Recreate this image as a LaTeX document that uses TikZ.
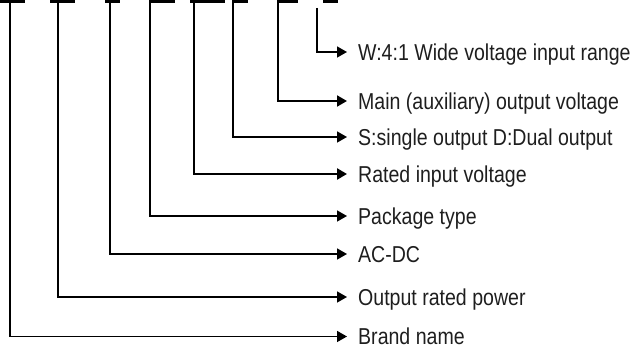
\documentclass[tikz,border=0pt]{standalone}
\usepackage{fontspec}
\setmainfont[FakeStretch=0.85]{Liberation Sans}
\usetikzlibrary{arrows.meta}
\definecolor{txt}{RGB}{30,30,30}
\begin{document}
\begin{tikzpicture}[x=1pt,y=-1pt,
  lead/.style={line width=1.6pt,-{Triangle[length=10pt,width=11pt]}},
  lbl/.style={anchor=west,inner xsep=11pt,inner ysep=0pt,text height=17pt,text depth=0pt,
    font=\fontsize{23}{26}\selectfont,text=txt},
  tick/.style={fill=black}]
\useasboundingbox (0,0) rectangle (633,347);
% top dashes
\fill[tick] (0,0) rectangle (25,2.6);
\fill[tick] (50,0) rectangle (75,2.6);
\fill[tick] (105,0) rectangle (120,2.6);
\fill[tick] (149,0) rectangle (175,2.6);
\fill[tick] (190,0) rectangle (225,2.6);
\fill[tick] (232,0) rectangle (248,2.6);
\fill[tick] (277,0) rectangle (298,2.6);
\fill[tick] (323,0) rectangle (338,2.6);
% start points
\coordinate (s1) at (10,1);
\coordinate (s2) at (58,1);
\coordinate (s3) at (110,1);
\coordinate (s4) at (150,1);
\coordinate (s5) at (194,1);
\coordinate (s6) at (233,1);
\coordinate (s7) at (278,1);
\coordinate (s8) at (317,8);
% labels
\node[lbl] (l1) at (347,336.5) {Brand name};
\node[lbl] (l2) at (347,297) {Output rated power};
\node[lbl] (l3) at (347,254) {AC-DC};
\node[lbl] (l4) at (347,216) {Package type};
\node[lbl] (l5) at (347,174) {Rated input voltage};
\node[lbl] (l6) at (347,137) {S:single output D:Dual output};
\node[lbl] (l7) at (347,101) {Main (auxiliary) output voltage};
\node[lbl] (l8) at (347,52) {W:4:1 Wide voltage input range};
% connectors
\draw[lead] (s1) |- (l1.west);
\draw[lead] (s2) |- (l2.west);
\draw[lead] (s3) |- (l3.west);
\draw[lead] (s4) |- (l4.west);
\draw[lead,line width=2.4pt] (s5) |- (l5.west);
\draw[lead] (s6) |- (l6.west);
\draw[lead,line width=2pt] (s7) |- (l7.west);
\draw[lead] (s8) |- (l8.west);
\end{tikzpicture}
\end{document}
